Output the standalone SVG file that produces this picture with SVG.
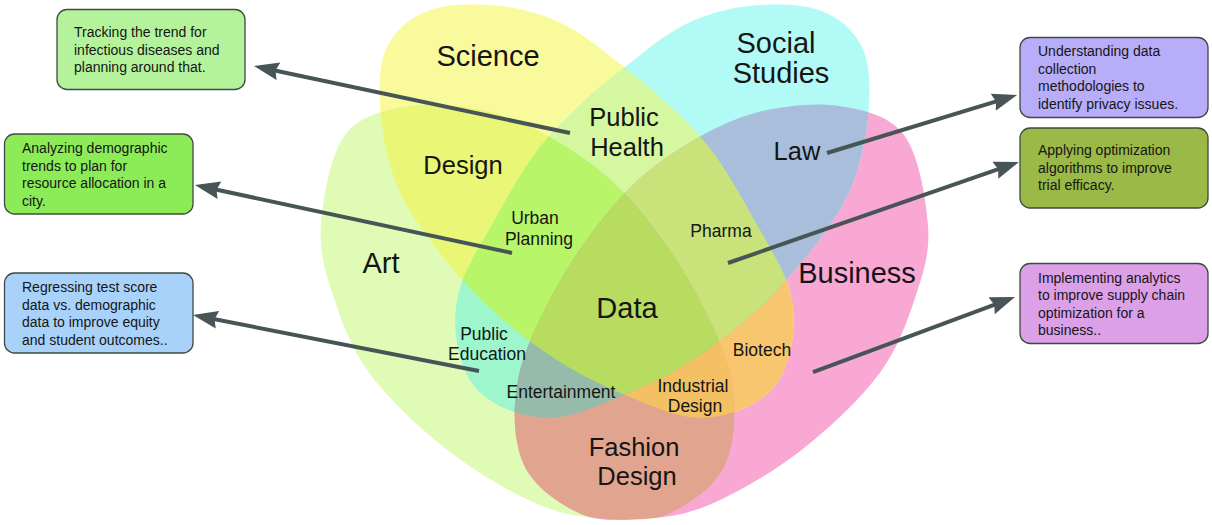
<svg xmlns="http://www.w3.org/2000/svg" xmlns:xlink="http://www.w3.org/1999/xlink" width="1212" height="525" viewBox="0 0 1212 525">
<style>
  text { font-family: "Liberation Sans", Arial, sans-serif; fill: #151515; }
  .big { font-size: 29px; text-anchor: middle; }
  .mid { font-size: 25.5px; text-anchor: middle; }
  .small { font-size: 17.5px; text-anchor: middle; }
  .box rect { stroke: #3f4a42; stroke-width: 1.3; }
  .box text { font-size: 14px; }
  .conn line { stroke: #475556; stroke-width: 4; fill: none; marker-end: url(#arrow); }
</style>
<defs>
  <marker id="arrow" markerUnits="userSpaceOnUse" markerWidth="26" markerHeight="20" refX="17" refY="9" orient="auto">
    <path d="M0,0 L25,9 L0,18 L3,9 Z" fill="#475556"/>
  </marker>
  <path id="pSci" d="M380,105 C378.8,82.5 379.7,60.8 388,45 C396.3,29.2 411.3,16.5 430,10 C448.7,3.5 477.5,3.5 500,6 C522.5,8.5 544.3,14.8 565,25 C585.7,35.2 606.5,53.5 624,67 C641.5,80.5 654.8,91.3 670,106 C685.2,120.7 700,134.3 715,155 C730,175.7 747.8,208.3 760,230 C772.2,251.7 782.5,267.5 788,285 C793.5,302.5 794.8,318.7 793,335 C791.2,351.3 785.8,370.5 777,383 C768.2,395.5 754.5,404.3 740,410 C725.5,415.7 708.3,419.2 690,417 C671.7,414.8 651.7,406.2 630,397 C608.3,387.8 583.3,376.8 560,362 C536.7,347.2 511.7,328.3 490,308 C468.3,287.7 445.8,261.3 430,240 C414.2,218.7 403.3,202.5 395,180 C386.7,157.5 381.2,127.5 380,105 Z"/>
  <path id="pSoc" transform="matrix(-1 0 0 1 1249 0)" d="M380,105 C378.8,82.5 379.7,60.8 388,45 C396.3,29.2 411.3,16.5 430,10 C448.7,3.5 477.5,3.5 500,6 C522.5,8.5 544.3,14.8 565,25 C585.7,35.2 606.5,53.5 624,67 C641.5,80.5 654.8,91.3 670,106 C685.2,120.7 700,134.3 715,155 C730,175.7 747.8,208.3 760,230 C772.2,251.7 782.5,267.5 788,285 C793.5,302.5 794.8,318.7 793,335 C791.2,351.3 785.8,370.5 777,383 C768.2,395.5 754.5,404.3 740,410 C725.5,415.7 708.3,419.2 690,417 C671.7,414.8 651.7,406.2 630,397 C608.3,387.8 583.3,376.8 560,362 C536.7,347.2 511.7,328.3 490,308 C468.3,287.7 445.8,261.3 430,240 C414.2,218.7 403.3,202.5 395,180 C386.7,157.5 381.2,127.5 380,105 Z"/>
  <path id="pArt" d="M321,225 C323,198.3 330.2,154.8 345,135 C359.8,115.2 385.8,109.8 410,106 C434.2,102.2 465,105.8 490,112 C515,118.2 537.3,129.2 560,143 C582.7,156.8 604.3,171.7 626,195 C647.7,218.3 672.5,252.2 690,283 C707.5,313.8 725.2,349.7 731,380 C736.8,410.3 735.2,442.8 725,465 C714.8,487.2 689.2,504 670,513 C650.8,522 631.7,520.3 610,519 C588.3,517.7 566.7,516.2 540,505 C513.3,493.8 478.3,473.8 450,452 C421.7,430.2 389.5,400.2 370,374 C350.5,347.8 341.2,319.8 333,295 C324.8,270.2 319,251.7 321,225 Z"/>
  <path id="pBus" transform="matrix(-1 0 0 1 1249 0)" d="M321,225 C323,198.3 330.2,154.8 345,135 C359.8,115.2 385.8,109.8 410,106 C434.2,102.2 465,105.8 490,112 C515,118.2 537.3,129.2 560,143 C582.7,156.8 604.3,171.7 626,195 C647.7,218.3 672.5,252.2 690,283 C707.5,313.8 725.2,349.7 731,380 C736.8,410.3 735.2,442.8 725,465 C714.8,487.2 689.2,504 670,513 C650.8,522 631.7,520.3 610,519 C588.3,517.7 566.7,516.2 540,505 C513.3,493.8 478.3,473.8 450,452 C421.7,430.2 389.5,400.2 370,374 C350.5,347.8 341.2,319.8 333,295 C324.8,270.2 319,251.7 321,225 Z"/>
  <clipPath id="cSci"><use xlink:href="#pSci" href="#pSci"/></clipPath>
  <clipPath id="cSoc"><use xlink:href="#pSoc" href="#pSoc"/></clipPath>
  <clipPath id="cArt"><use xlink:href="#pArt" href="#pArt"/></clipPath>
  <clipPath id="cBus"><use xlink:href="#pBus" href="#pBus"/></clipPath>
</defs>

<rect x="0" y="0" width="1212" height="525" fill="#ffffff"/>

<g id="venn">
  <g id="set-art"><use href="#pArt" fill="#DFFBB6"/></g>
  <g id="set-business"><use href="#pBus" fill="#F9A8D4"/></g>
  <g id="set-science"><use href="#pSci" fill="#F8FA9B"/></g>
  <g id="set-social-studies"><use href="#pSoc" fill="#B2FAF5"/></g>
  <g id="overlaps">
    <g clip-path="url(#cSci)"><use href="#pArt" fill="#E9F676"/></g>
    <g clip-path="url(#cSci)"><use href="#pSoc" fill="#D4F7A0"/></g>
    <g clip-path="url(#cSci)"><use href="#pBus" fill="#F8C66E"/></g>
    <g clip-path="url(#cSoc)"><use href="#pArt" fill="#9EF6CD"/></g>
    <g clip-path="url(#cSoc)"><use href="#pBus" fill="#A8BEDA"/></g>
    <g clip-path="url(#cArt)"><use href="#pBus" fill="#E0A48F"/></g>
    <g clip-path="url(#cSci)"><g clip-path="url(#cSoc)"><use href="#pArt" fill="#B9F569"/></g></g>
    <g clip-path="url(#cSci)"><g clip-path="url(#cSoc)"><use href="#pBus" fill="#C9E27A"/></g></g>
    <g clip-path="url(#cSci)"><g clip-path="url(#cArt)"><use href="#pBus" fill="#F3C164"/></g></g>
    <g clip-path="url(#cSoc)"><g clip-path="url(#cArt)"><use href="#pBus" fill="#96BBAA"/></g></g>
    <g clip-path="url(#cSci)"><g clip-path="url(#cSoc)"><g clip-path="url(#cArt)"><use href="#pBus" fill="#B7DC5F"/></g></g></g>
  </g>
</g>

<g id="venn-labels">
  <g id="label-science"><text class="big" x="488" y="66">Science</text></g>
  <g id="label-social-studies"><text class="big" x="776" y="53">Social</text><text class="big" x="781" y="83">Studies</text></g>
  <g id="label-public-health"><text class="mid" x="624" y="126">Public</text><text class="mid" x="627" y="156">Health</text></g>
  <g id="label-design"><text class="mid" x="463" y="174">Design</text></g>
  <g id="label-law"><text class="mid" x="797" y="160">Law</text></g>
  <g id="label-art"><text class="big" x="381" y="273">Art</text></g>
  <g id="label-business"><text class="big" x="857" y="283">Business</text></g>
  <g id="label-data"><text class="big" x="627" y="318">Data</text></g>
  <g id="label-urban-planning"><text class="small" x="535" y="224">Urban</text><text class="small" x="539" y="245">Planning</text></g>
  <g id="label-pharma"><text class="small" x="721" y="237">Pharma</text></g>
  <g id="label-public-education"><text class="small" x="484" y="340">Public</text><text class="small" x="487" y="360">Education</text></g>
  <g id="label-entertainment"><text class="small" x="561" y="398">Entertainment</text></g>
  <g id="label-biotech"><text class="small" x="762" y="356">Biotech</text></g>
  <g id="label-industrial-design"><text class="small" x="693" y="392">Industrial</text><text class="small" x="695" y="412">Design</text></g>
  <g id="label-fashion-design"><text class="mid" x="634" y="456">Fashion</text><text class="mid" x="637" y="485">Design</text></g>
</g>

<g id="box-public-health" class="box">
  <rect x="57" y="9.5" width="188" height="80" rx="10" fill="#B4F39B"/>
  <text x="74" y="37">Tracking the trend for</text>
  <text x="74" y="54.5">infectious diseases and</text>
  <text x="74" y="72">planning around that.</text>
</g>
<g id="box-urban-planning" class="box">
  <rect x="4.5" y="134" width="188.5" height="80" rx="10" fill="#8CEC58"/>
  <text x="22" y="153">Analyzing demographic</text>
  <text x="22" y="170.5">trends to plan for</text>
  <text x="22" y="188">resource allocation in a</text>
  <text x="22" y="205.5">city.</text>
</g>
<g id="box-public-education" class="box">
  <rect x="4.5" y="273" width="188.5" height="80" rx="10" fill="#A9D2FA"/>
  <text x="22" y="292">Regressing test score</text>
  <text x="22" y="309.5">data vs. demographic</text>
  <text x="22" y="327">data to improve equity</text>
  <text x="22" y="344.5">and student outcomes..</text>
</g>
<g id="box-law" class="box">
  <rect x="1020" y="37.5" width="188" height="80" rx="10" fill="#B7ADF9"/>
  <text x="1038" y="56">Understanding data</text>
  <text x="1038" y="73.5">collection</text>
  <text x="1038" y="91">methodologies to</text>
  <text x="1038" y="108.5">identify privacy issues.</text>
</g>
<g id="box-pharma" class="box">
  <rect x="1020" y="128" width="188" height="80" rx="10" fill="#9BB947"/>
  <text x="1038" y="155">Applying optimization</text>
  <text x="1038" y="172.5">algorithms to improve</text>
  <text x="1038" y="190">trial efficacy.</text>
</g>
<g id="box-business" class="box">
  <rect x="1020" y="263.5" width="188" height="80" rx="10" fill="#DBA0E8"/>
  <text x="1038" y="282.5">Implementing analytics</text>
  <text x="1038" y="300">to improve supply chain</text>
  <text x="1038" y="317.5">optimization for a</text>
  <text x="1038" y="335">business..</text>
</g>

<g id="connectors" class="conn">
  <line x1="570" y1="133" x2="261.8" y2="67.7"/>
  <line x1="512" y1="253" x2="202.8" y2="186.7"/>
  <line x1="479" y1="371" x2="200.8" y2="316.5"/>
  <line x1="827" y1="153" x2="1009.4" y2="97.3"/>
  <line x1="728" y1="263" x2="1011.4" y2="164.6"/>
  <line x1="813" y1="372" x2="1007.5" y2="299.8"/>
</g>
</svg>
